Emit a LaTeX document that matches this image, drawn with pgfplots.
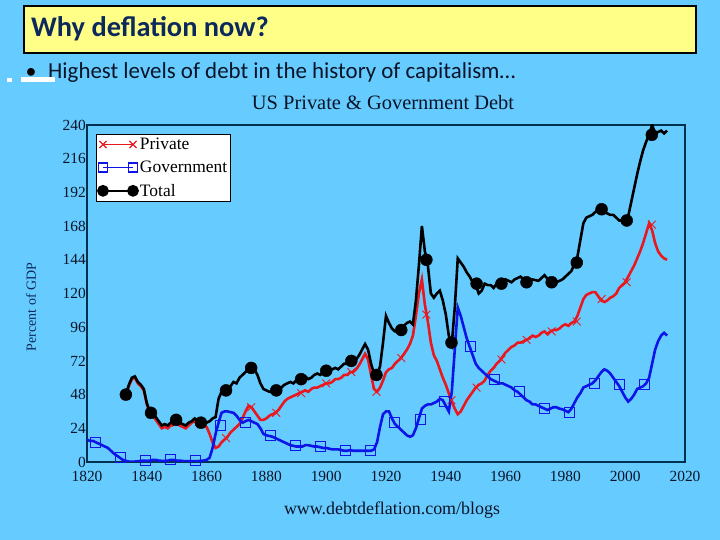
\documentclass[border=0pt]{standalone}
\usepackage{pgfplots}
\pgfplotsset{compat=1.18}
\usepackage{pgfplotstable}
\usepackage{fontspec}
\setmainfont{Liberation Serif}
\newfontfamily\calibri{Carlito}

\definecolor{slide}{RGB}{102,204,255}
\definecolor{titleyellow}{RGB}{255,255,136}
\definecolor{titlenavy}{RGB}{12,40,92}
\definecolor{darktext}{RGB}{10,20,40}
\definecolor{axisnavy}{RGB}{0,50,80}
\definecolor{privred}{RGB}{232,24,30}
\definecolor{govblue}{RGB}{12,20,232}

% private debt, % of GDP
\pgfplotstableread{
year val
1832 47
1833 47
1834 54
1835 59
1836 60
1837 56
1838 54
1839 51
1840 41
1841 35
1842 33
1843 30
1844 27
1845 24
1846 25
1847 24
1848 26
1849 27
1850 28
1851 26
1852 25
1853 24
1854 26
1855 28
1856 29
1857 28
1858 27
1859 26
1860 25
1861 20
1862 14
1863 10
1864 11
1865 14
1866 16
1867 18
1868 21
1869 23
1870 25
1871 27
1872 31
1873 36
1874 40
1875 39
1876 36
1877 33
1878 30
1879 30
1880 31
1881 33
1882 34
1883 35
1884 37
1885 40
1886 43
1887 45
1888 46
1889 47
1890 48
1891 49
1892 50
1893 51
1894 50
1895 52
1896 53
1897 53
1898 54
1899 55
1900 56
1901 56
1902 57
1903 59
1904 59
1905 60
1906 62
1907 62
1908 64
1909 64
1910 66
1911 69
1912 73
1913 77
1914 73
1915 62
1916 52
1917 50
1918 53
1919 58
1920 64
1921 66
1922 67
1923 70
1924 72
1925 74
1926 77
1927 80
1928 84
1929 90
1930 104
1931 120
1932 130
1933 112
1934 100
1935 85
1936 76
1937 72
1938 66
1939 60
1940 55
1941 49
1942 43
1943 38
1944 34
1945 36
1946 40
1947 44
1948 47
1949 50
1950 53
1951 55
1952 56
1953 58
1954 62
1955 65
1956 67
1957 70
1958 72
1959 75
1960 78
1961 80
1962 82
1963 83
1964 85
1965 85
1966 86
1967 87
1968 88
1969 90
1970 89
1971 90
1972 92
1973 93
1974 91
1975 93
1976 94
1977 94
1978 95
1979 97
1980 98
1981 97
1982 99
1983 100
1984 104
1985 110
1986 116
1987 119
1988 120
1989 121
1990 121
1991 118
1992 115
1993 114
1994 115
1995 117
1996 118
1997 120
1998 124
1999 126
2000 128
2001 132
2002 136
2003 140
2004 145
2005 150
2006 156
2007 163
2008 170
2009 165
2010 156
2011 150
2012 147
2013 145
2014 144
}\privdata

% government debt
\pgfplotstableread{
year val
1820 16
1821 15
1822 15
1823 14
1824 13
1825 12
1826 11
1827 10
1828 8
1829 6
1830 4.5
1831 3
1832 1.5
1833 0.8
1834 0.3
1835 0.3
1836 0.3
1837 0.5
1838 0.8
1839 1
1840 0.8
1841 1
1842 1.5
1843 1.5
1844 1
1845 0.8
1846 0.8
1847 1
1848 1.5
1849 1.5
1850 1
1851 1
1852 0.7
1853 0.6
1854 0.5
1855 0.5
1856 0.5
1857 0.6
1858 0.8
1859 1
1860 1.5
1861 3
1862 10
1863 20
1864 28
1865 35
1866 36
1867 36
1868 35.5
1869 35
1870 33
1871 30
1872 28
1873 29
1874 30
1875 29
1876 28
1877 27
1878 24
1879 20
1880 19
1881 18.5
1882 18
1883 17
1884 16
1885 15
1886 14
1887 13
1888 12
1889 11.5
1890 11
1891 11
1892 11
1893 12
1894 12
1895 11.5
1896 11
1897 11
1898 10.5
1899 10
1900 10
1901 9.5
1902 9
1903 9
1904 9
1905 8.5
1906 8
1907 8
1908 8.5
1909 8
1910 8
1911 8
1912 8
1913 8
1914 8
1915 8
1916 9
1917 14
1918 25
1919 34
1920 36
1921 36
1922 31
1923 27
1924 25
1925 23
1926 21
1927 19
1928 18
1929 19
1930 24
1931 31
1932 38
1933 40
1934 41
1935 41
1936 42
1937 43
1938 45
1939 44
1940 40
1941 36
1942 50
1943 80
1944 110
1945 104
1946 96
1947 88
1948 82
1949 76
1950 70
1951 67
1952 65
1953 63
1954 61
1955 59
1956 58
1957 57
1958 56
1959 56
1960 55
1961 54
1962 53
1963 51
1964 50
1965 48
1966 46
1967 44
1968 43
1969 41
1970 41
1971 40
1972 39
1973 38
1974 37
1975 38
1976 39
1977 39
1978 38
1979 37.5
1980 36.5
1981 35.5
1982 38
1983 42
1984 46
1985 49
1986 53
1987 54
1988 55
1989 56
1990 58
1991 61
1992 64
1993 66
1994 65
1995 63
1996 60
1997 57
1998 54
1999 50
2000 46
2001 43
2002 45
2003 48
2004 52
2005 53
2006 54
2007 56
2008 60
2009 70
2010 80
2011 86
2012 90
2013 92
2014 90
}\govdata

% total debt
\pgfplotstableread{
year val
1832 48
1833 48
1834 55
1835 60
1836 61
1837 57
1838 55
1839 52
1840 42
1841 36
1842 34
1843 32
1844 29
1845 26
1846 27
1847 26
1848 28
1849 29
1850 30
1851 28
1852 27
1853 26
1854 28
1855 29
1856 31
1857 29
1858 28
1859 27
1860 28
1861 29
1862 31
1863 32
1864 45
1865 50
1866 51
1867 52
1868 54
1869 57
1870 56
1871 60
1872 62
1873 64
1874 67
1875 67
1876 66
1877 62
1878 56
1879 52
1880 51
1881 50
1882 50
1883 51
1884 51
1885 53
1886 55
1887 56
1888 57
1889 56
1890 58
1891 58
1892 60
1893 61
1894 59
1895 60
1896 62
1897 63
1898 62
1899 64
1900 65
1901 65
1902 66
1903 67
1904 66
1905 68
1906 70
1907 70
1908 72
1909 71
1910 73
1911 76
1912 80
1913 84
1914 80
1915 70
1916 63
1917 62
1918 68
1919 85
1920 104
1921 99
1922 95
1923 93
1924 93
1925 95
1926 97
1927 99
1928 100
1929 98
1930 115
1931 140
1932 168
1933 150
1934 140
1935 120
1936 117
1937 120
1938 122
1939 115
1940 105
1941 90
1942 84
1943 110
1944 145
1945 142
1946 139
1947 135
1948 132
1949 128
1950 126
1951 120
1952 122
1953 127
1954 126
1955 126
1956 124
1957 127
1958 126
1959 127
1960 130
1961 129
1962 128
1963 130
1965 132
1967 128
1969 130
1971 129
1973 133
1975 128
1977 128
1979 130
1981 134
1982 136
1983 141
1984 146
1985 158
1986 170
1987 174
1988 175
1989 176
1990 178
1991 180
1992 179
1993 178
1994 177
1995 176
1996 176
1997 174
1998 172
1999 172
2000 171
2001 175
2002 185
2003 195
2004 205
2005 214
2006 222
2007 228
2008 233
2009 240
2010 234
2011 235
2012 236
2013 234
2014 236
}\totdata

% marker positions
\pgfplotstableread{
year priv tot
1833 47 48
1841.4 34 35
1849.8 28 30
1858.1 27 28
1866.5 17 51
1874.9 39 67
1883.3 35 51
1891.6 49 59
1900 56 65
1908.4 64 72
1916.8 50 62
1925.1 74 94
1933.5 105 144
1941.9 44 85
1950.3 53 127
1958.6 73 127
1967 87 128
1975.4 93 128
1983.8 100 142
1992.1 116 180
2000.5 128 172
2008.9 169 233
}\pmarks

\pgfplotstableread{
year val
1822.8 14
1831.2 3
1839.5 1
1847.9 1.5
1856.2 0.8
1864.6 26
1872.9 28
1881.3 19
1889.6 12
1898 11
1906.3 8.5
1914.7 8
1923 28
1931.4 30
1939.7 43
1948.1 82
1956.4 59
1964.8 50
1973.1 38
1981.5 35
1989.8 56
1998.2 55
2006.5 55
}\gmarks

\begin{document}
\begin{tikzpicture}[x=1bp,y=1bp]
\fill[slide] (0,0) rectangle (720,540);
\useasboundingbox (0,0) rectangle (720,540);

% slide header
\draw[fill=titleyellow, draw=black, line width=2bp] (24,487) rectangle (696,534);
\node[anchor=base west, inner sep=0, text=titlenavy, font=\calibri\bfseries\fontsize{28.5}{28.5}\selectfont] at (31,503) {Why deflation now?};
\node[anchor=base, inner sep=0, font=\calibri\fontsize{22}{22}\selectfont] at (31,461) {\textbullet};
\node[anchor=base west, inner sep=0, text=darktext, font=\calibri\fontsize{23}{23}\selectfont] at (48,461) {Highest levels of debt in the history of capitalism…};
\fill[white] (7,458) rectangle (12,462);
\fill[white] (21,458) rectangle (55,463);

\node[anchor=base, inner sep=0, text=darktext, font=\fontsize{20.5}{20.5}\selectfont] at (383,430) {US Private \& Government Debt};
\node[rotate=90, inner sep=0, text=titlenavy, font=\fontsize{14}{14}\selectfont] at (31,233) {Percent of GDP};
\node[anchor=base, inner sep=0, text=darktext, font=\fontsize{18}{18}\selectfont] at (392,25) {www.debtdeflation.com/blogs};

\begin{axis}[
    at={(87bp,78bp)}, anchor=south west,
    scale only axis, width=598bp, height=337bp,
    xmin=1820, xmax=2020, ymin=0, ymax=240,
    xtick={1820,1840,...,2020},
    ytick={0,24,...,240},
    major tick length=0pt,
    axis line style={draw=axisnavy, line width=1.8bp},
    /pgf/number format/1000 sep={},
    /pgf/number format/assume math mode=true,
    tick label style={font=\fontsize{15.5}{15.5}\selectfont, text=darktext},
    yticklabel style={inner sep=1bp, yshift=0bp},
    xticklabel style={inner sep=1bp, yshift=-8bp},
    legend image code/.code={
        \draw[mark repeat=2, mark phase=1, #1] plot coordinates {(0bp,0bp) (15bp,0bp) (30bp,0bp)};},
    legend style={at={(rel axis cs:0,1)}, anchor=north west, xshift=9bp, yshift=-9bp,
        draw=black, line width=1bp, fill=white, font=\fontsize{17.5}{17.5}\selectfont,
        inner sep=1.5bp, row sep=6bp, cells={anchor=west}},
]
\addlegendimage{privred, line width=1.8bp, mark=x, mark size=5bp, mark options={line width=1.2bp}}
\addlegendentry{Private}
\addlegendimage{govblue, line width=1.8bp, mark=square, mark size=4.5bp, mark options={line width=1.2bp}}
\addlegendentry{Government}
\addlegendimage{black, line width=1.8bp, mark=*, mark size=5bp}
\addlegendentry{Total}

\addplot[privred, line width=2.6bp, no marks, forget plot] table[x=year, y=val] {\privdata};
\addplot[govblue, line width=2.6bp, no marks, forget plot] table[x=year, y=val] {\govdata};
\addplot[black, line width=2.6bp, no marks, forget plot] table[x=year, y=val] {\totdata};

\addplot[only marks, mark=x, mark size=5.5bp, privred, mark options={line width=0.9bp}, forget plot] table[x=year, y=priv] {\pmarks};
\addplot[only marks, mark=square, mark size=5bp, govblue, mark options={line width=1bp}, forget plot] table[x=year, y=val] {\gmarks};
\addplot[only marks, mark=*, mark size=6bp, black, forget plot] table[x=year, y=tot] {\pmarks};
\end{axis}
\end{tikzpicture}
\end{document}
